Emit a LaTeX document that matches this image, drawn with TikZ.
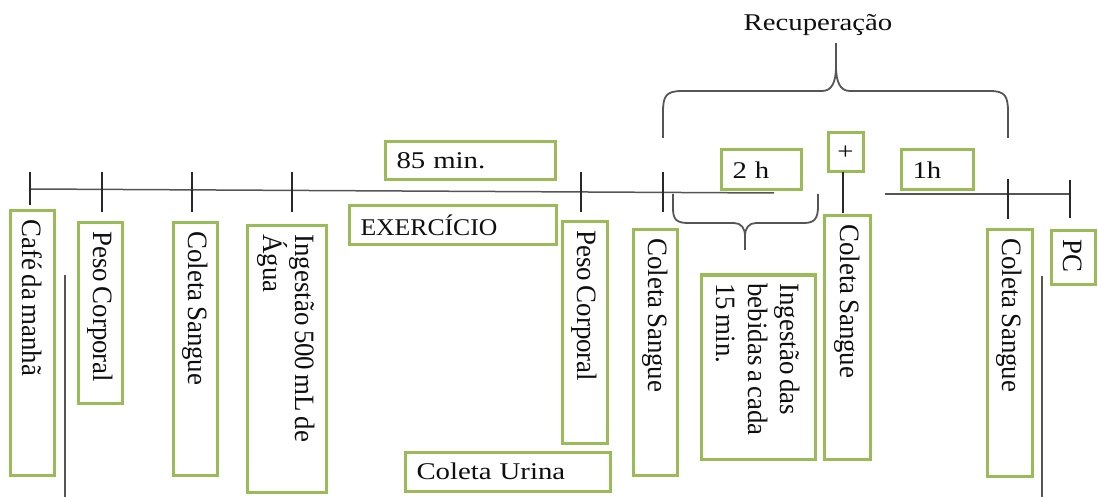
\documentclass[tikz,border=0pt]{standalone}
\usepackage{fontspec}
\setmainfont{Liberation Serif}
\newfontfamily\vfont[FakeStretch=0.96]{Liberation Serif}
\newfontfamily\hfont[FakeStretch=1.2]{Liberation Serif}
\newfontfamily\hfontb[FakeStretch=1.07]{Liberation Serif}
\definecolor{boxgreen}{RGB}{155,187,89}
\definecolor{linegray}{RGB}{85,85,85}
\definecolor{tickgray}{RGB}{40,40,40}
\definecolor{txt}{RGB}{15,15,15}
\begin{document}
\begin{tikzpicture}[x=1pt,y=-1pt,
  vbox/.style={draw=boxgreen, line width=3pt, rotate=-90, anchor=north west,
    inner xsep=8.5pt, inner ysep=0pt, align=left, text=txt,
    font=\vfont\fontsize{28}{32}\selectfont,
    execute at begin node={\spaceskip=4.5pt plus 1pt\relax}},
  hbox/.style={draw=boxgreen, line width=3pt, anchor=north west,
    inner xsep=11.5pt, inner ysep=0pt, align=left, text=txt,
    font=\hfont\fontsize{24}{28}\selectfont},
  tl/.style={draw=linegray, line width=1.5pt},
  tick/.style={draw=tickgray, line width=2.5pt},
  brace/.style={draw=linegray, line width=1.8pt},
  free/.style={draw=linegray, line width=2pt}]
\useasboundingbox (0,0) rectangle (1098,497);

% vertical boxes
\node[vbox, minimum width=264pt, minimum height=44pt, text width=247pt] (cafe) at (55.5,209.5) {Café da manhã};
\node[vbox, minimum width=180pt, minimum height=44pt, text width=163pt] (peso1) at (123.5,221.5) {Peso Corporal};
\node[vbox, minimum width=252pt, minimum height=44pt, text width=235pt] (cs1) at (218.5,221.5) {Coleta Sangue};
\node[vbox, minimum width=266pt, minimum height=79pt, text width=249pt] (ing1) at (327.5,224.5) {Ingestão 500 mL de\\Água};
\node[vbox, minimum width=221pt, minimum height=45pt, text width=204pt] (peso2) at (608.5,220.5) {Peso Corporal};
\node[vbox, minimum width=245pt, minimum height=44pt, text width=228pt] (cs2) at (678.5,228.5) {Coleta Sangue};
\node[vbox, minimum width=184pt, minimum height=114pt, text width=167pt] (ingb) at (816.5,273.5) {Ingestão das\\bebidas a cada\\15 min.};
\node[vbox, minimum width=243pt, minimum height=46pt, text width=226pt] (cs3) at (871.5,214.5) {Coleta Sangue};
\node[vbox, minimum width=246pt, minimum height=45pt, text width=229pt] (cs4) at (1033.5,228.5) {Coleta Sangue};
\node[vbox, minimum width=53pt, minimum height=44pt, text width=36pt] (pc) at (1096.5,229.5) {PC};

% horizontal boxes
\node[hbox, minimum width=170pt, minimum height=38pt, text width=147pt] (min85) at (383.5,140.5) {85 min.};
\node[hbox, minimum width=207pt, minimum height=39pt, text width=184pt, font=\hfontb\fontsize{24}{28}\selectfont] (exer) at (347.5,204.5) {EXERCÍCIO};
\node[hbox, minimum width=205pt, minimum height=39pt, text width=182pt] (urina) at (403.5,450.5) {Coleta Urina};
\node[hbox, minimum width=80pt, minimum height=40pt, text width=57pt] (h2) at (719.5,148.5) {2 h};
\node[hbox, minimum width=72pt, minimum height=40pt, text width=49pt] (h1) at (899.5,148.5) {1h};
\node[hbox, minimum width=35pt, minimum height=39pt, inner xsep=0pt, align=center] (plus) at (826.5,131.5) {+};

% title
\node[text=txt, font=\hfont\fontsize{24}{28}\selectfont] (rec) at (818,25) {Recuperação};

% timeline
\coordinate (tl0) at (30,189);
\coordinate (tlA) at (774,193);
\coordinate (tlB) at (885,194);
\coordinate (tlC) at (1070,194);
\draw[tl] (tl0) -- (tlA);
\draw[tl] (tlB) -- (tlC);

% ticks
\foreach \n/\x/\a/\b in {1/30/172/205, 2/102/172/212, 3/192/172/212, 4/292/172/212,
  5/581/172/212, 6/663/172/212, 7/843/172/213, 8/1008/179/219, 9/1070/180/218}{
  \coordinate (k\n a) at (\x,\a);
  \coordinate (k\n b) at (\x,\b);
  \draw[tick] (k\n a) -- (k\n b);
}

% free vertical lines
\coordinate (fa1) at (65,275);
\coordinate (fa2) at (65,497);
\coordinate (fb1) at (1042,276);
\coordinate (fb2) at (1042,497);
\draw[free] (fa1) -- (fa2);
\draw[free] (fb1) -- (fb2);

% big brace (Recuperacao)
\draw[brace] (663,138) -- (663,112) .. controls (663,96) and (666,91) .. (682,91)
  -- (822,91) .. controls (832,91) and (836,82) .. (836,66)
  .. controls (836,82) and (840,91) .. (850,91)
  -- (990,91) .. controls (1005,91) and (1008,96) .. (1008,112) -- (1008,138);
\draw[brace] (836,66) -- (836,43);

% small brace (2 h)
\draw[brace] (673,194) -- (673,208) .. controls (673,219) and (676,223) .. (688,223)
  -- (734,223) .. controls (741,223) and (745,228) .. (745,236)
  .. controls (745,228) and (749,223) .. (756,223)
  -- (804,223) .. controls (815,223) and (818,218) .. (818,206) -- (818,194);
\draw[brace] (745,236) -- (745,250);
\end{tikzpicture}
\end{document}
